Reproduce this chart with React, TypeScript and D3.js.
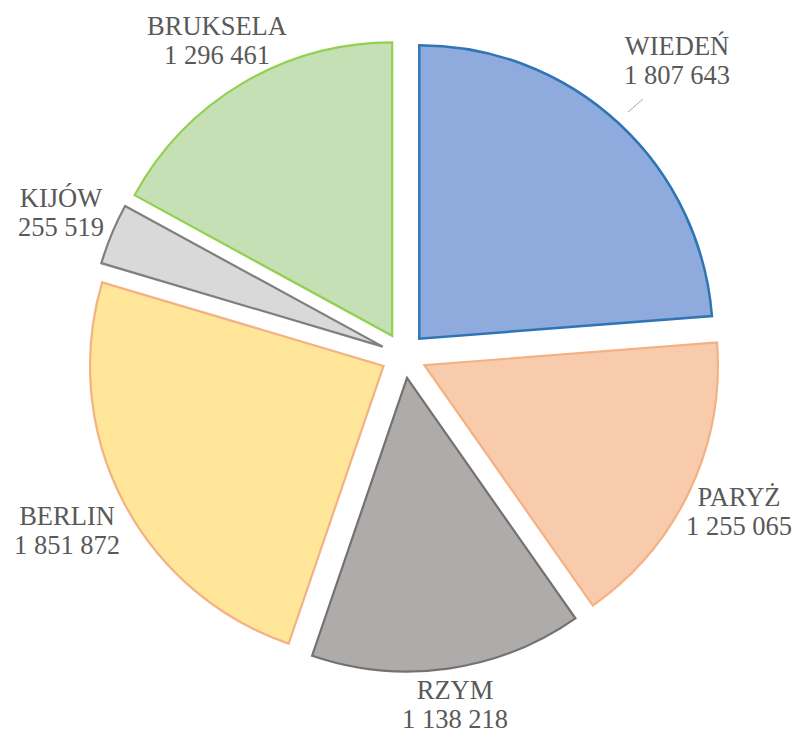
import React from "react";
import * as d3 from "d3";

const cities = ["WIEDEŃ", "PARYŻ", "RZYM", "BERLIN", "KIJÓW", "BRUKSELA"];
const values = [1807643, 1255065, 1138218, 1851872, 255519, 1296461];
const valueLabels = ["1 807 643", "1 255 065", "1 138 218", "1 851 872", "255 519", "1 296 461"];
const fills = ["#8FAADC", "#F8CBAD", "#AEABAB", "#FFE699", "#D9D9D9", "#C5E0B4"];
const strokes = ["#2E75B6", "#F4B183", "#767171", "#F4B183", "#7F7F7F", "#92D050"];
// label anchor positions (center x, first baseline y)
const labelPos: [number, number][] = [
  [677, 55],
  [739, 506],
  [455, 699],
  [67, 525],
  [61, 207],
  [217, 35],
];

const W = 795;
const H = 734;
const cx = 403.8;
const cy = 355.4;
const R = 293.5;
const explode = 22.8;
const FONT = "'Liberation Serif', 'Times New Roman', serif";

export default function App() {
  const pie = d3.pie<number>().sort(null).value((d) => d).startAngle(0).endAngle(2 * Math.PI);
  const arcs = pie(values);
  const arc = d3.arc<d3.PieArcDatum<number>>().innerRadius(0).outerRadius(R);
  return (
    <svg
      width={W}
      height={H}
      style={{ position: "absolute", left: 0, top: 0, background: "#fff" }}
    >
      <g transform={`translate(${cx},${cy})`}>
        {arcs.map((a, i) => {
          const mid = (a.startAngle + a.endAngle) / 2;
          const dx = Math.sin(mid) * explode;
          const dy = -Math.cos(mid) * explode;
          return (
            <path
              key={i}
              d={arc(a) || ""}
              transform={`translate(${dx},${dy})`}
              fill={fills[i]}
              stroke={strokes[i]}
              strokeWidth={i === 0 ? 2.5 : 2.2}
              strokeLinejoin="miter"
            />
          );
        })}
      </g>
      <line x1={628} y1={112} x2={643} y2={99} stroke="#A6A6A6" strokeWidth={1} />
      {cities.map((c, i) => (
        <text
          key={c}
          x={labelPos[i][0]}
          y={labelPos[i][1]}
          textAnchor="middle"
          style={{ fontFamily: FONT, fontSize: "26.5px" }}
          fill="#595959"
        >
          <tspan x={labelPos[i][0]}>{c}</tspan>
          <tspan x={labelPos[i][0]} dy={28.5}>{valueLabels[i]}</tspan>
        </text>
      ))}
    </svg>
  );
}
